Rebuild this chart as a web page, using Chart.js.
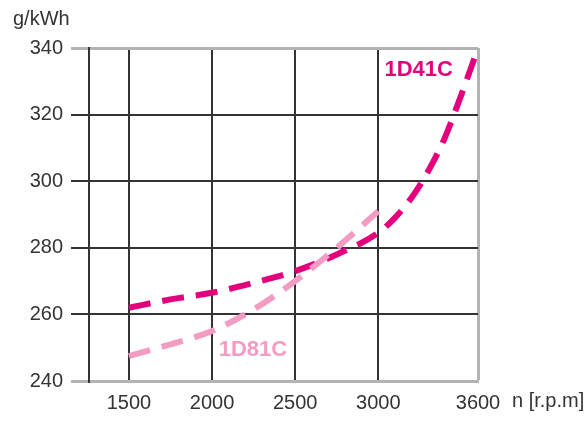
<!DOCTYPE html>
<html>
<head>
<meta charset="utf-8">
<script src="https://cdn.jsdelivr.net/npm/chart.js@4"></script>
<style>
  html, body { margin: 0; padding: 0; background: #fff; }
  #wrap { width: 587px; height: 421px; }
</style>
</head>
<body>
<div id="wrap"><canvas id="fuelChart" width="587" height="421"></canvas></div>
<script>
// engine speed (r.p.m) and specific fuel consumption (g/kWh)
var rpm41 = [1500, 1750, 2000, 2250, 2500, 2750, 3000, 3100, 3200, 3300, 3400, 3500, 3600];
var sfc41 = [262, 264.5, 266.5, 269.5, 273, 278, 284.5, 289, 295, 303, 313, 326, 340];
var rpm81 = [1500, 1750, 2000, 2250, 2500, 2750, 3000];
var sfc81 = [247.5, 251, 255, 261.5, 270, 280, 291];
var xTicks = [1500, 2000, 2500, 3000, 3600];
var yTicks = [240, 260, 280, 300, 320, 340];

var MAGENTA = '#e4007c';
var PINK = '#f39cc3';
var GRID = '#333333';
var EDGE = '#b3b3b3';
var FONT = "'Liberation Sans', Arial, sans-serif";

function pts(xs, ys) {
    return xs.map(function(x, i) { return { x: x, y: ys[i] }; });
}

// extra labels: axis units and series names
var labelsPlugin = {
    id: 'labels',
    afterDraw: function(chart) {
        var c = chart.ctx;
        var xs = chart.scales.x, ys = chart.scales.y;
        c.save();
        c.fillStyle = '#333';
        c.font = '20px ' + FONT;
        c.textBaseline = 'middle';
        c.textAlign = 'left';
        c.fillText('g/kWh', 13, 19);
        c.fillText('n [r.p.m]', 512, 401);

        c.font = 'bold 22px ' + FONT;
        c.fillStyle = MAGENTA;
        c.fillText('1D41C', xs.getPixelForValue(3037), ys.getPixelForValue(333.4));
        c.fillStyle = PINK;
        c.fillText('1D81C', xs.getPixelForValue(2040), ys.getPixelForValue(249.3));
        c.restore();
    }
};

document.addEventListener('DOMContentLoaded', function() {
    var ctx = document.getElementById('fuelChart').getContext('2d');
    new Chart(ctx, {
        type: 'line',
        data: {
            datasets: [{
                label: '1D81C',
                data: pts(rpm81, sfc81),
                borderColor: PINK,
                borderWidth: 6,
                borderDash: [22, 12],
                borderCapStyle: 'butt',
                cubicInterpolationMode: 'monotone',
                pointRadius: 0,
                fill: false,
                clip: 10
            }, {
                label: '1D41C',
                data: pts(rpm41, sfc41),
                borderColor: MAGENTA,
                borderWidth: 6,
                borderDash: [22, 12],
                borderCapStyle: 'butt',
                cubicInterpolationMode: 'monotone',
                pointRadius: 0,
                fill: false,
                clip: 10
            }]
        },
        options: {
            responsive: false,
            animation: false,
            layout: { padding: { top: 48, right: 109, left: 0, bottom: 0 } },
            plugins: {
                legend: { display: false },
                tooltip: { enabled: false }
            },
            scales: {
                x: {
                    type: 'linear',
                    min: 1260,
                    max: 3600,
                    afterBuildTicks: function(scale) {
                        scale.ticks = xTicks.map(function(v) { return { value: v }; });
                    },
                    afterFit: function(scale) { scale.height = 40; },
                    grid: {
                        drawTicks: false,
                        color: function(c) { return c.tick && c.tick.value === 3600 ? EDGE : GRID; },
                        lineWidth: function(c) { return c.tick && c.tick.value === 3600 ? 3 : 2; }
                    },
                    border: { display: true, color: EDGE, width: 3 },
                    ticks: {
                        autoSkip: false,
                        maxRotation: 0,
                        padding: 10,
                        color: '#333',
                        font: { family: FONT, size: 20 },
                        callback: function(v) { return String(v); }
                    }
                },
                y: {
                    min: 240,
                    max: 340,
                    afterBuildTicks: function(scale) {
                        scale.ticks = yTicks.map(function(v) { return { value: v }; });
                    },
                    afterFit: function(scale) { scale.width = 89; },
                    grid: {
                        drawTicks: true,
                        tickLength: 18,
                        color: function(c) {
                            var v = c.tick && c.tick.value;
                            return (v === 340 || v === 240) ? EDGE : GRID;
                        },
                        lineWidth: function(c) {
                            var v = c.tick && c.tick.value;
                            return (v === 340 || v === 240) ? 3 : 2;
                        }
                    },
                    border: { display: true, color: GRID, width: 2 },
                    ticks: {
                        padding: 8,
                        color: '#333',
                        font: { family: FONT, size: 20 },
                        callback: function(v) { return String(v); }
                    }
                }
            }
        },
        plugins: [labelsPlugin]
    });
});
</script>
</body>
</html>
